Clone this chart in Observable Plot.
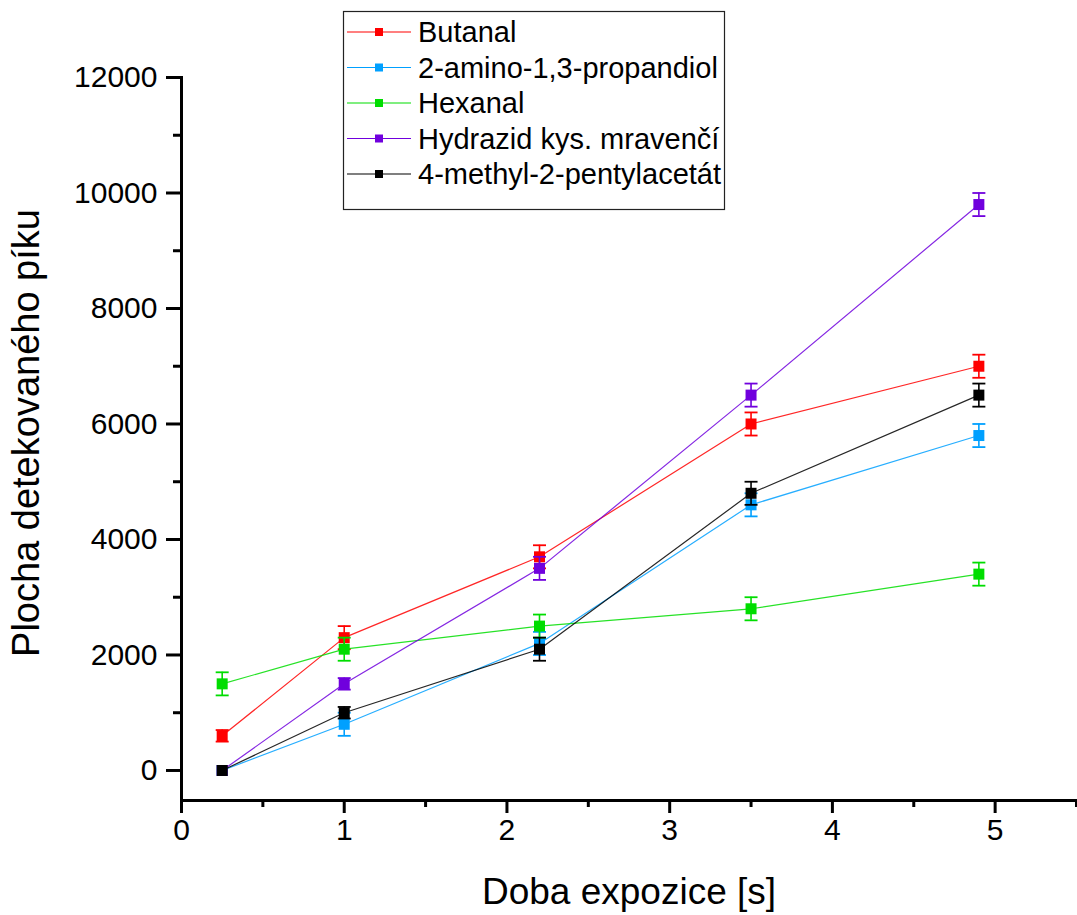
<!DOCTYPE html>
<html>
<head>
<meta charset="utf-8">
<script src="https://cdn.jsdelivr.net/npm/d3@7"></script>
<script src="https://cdn.jsdelivr.net/npm/@observablehq/plot@0.6"></script>
<style>
  body { margin: 0; background: #fff; }
  #chart { position: relative; width: 1077px; height: 915px; font-family: "Liberation Sans", Arial, sans-serif; }
  #chart > svg.legend { position: absolute; left: 0; top: 0; }
</style>
</head>
<body>
<div id="chart"></div>
<script>
// Exposure times (s)
const times = [0.25, 1, 2.2, 3.5, 4.9];

// Series names and colours
const seriesNames = ["Butanal", "2-amino-1,3-propandiol", "Hexanal", "Hydrazid kys. mravenčí", "4-methyl-2-pentylacetát"];
const seriesColors = ["#ff0000", "#00a0ff", "#00dd00", "#7000dd", "#000000"];

// Detected peak areas and their errors
const butanal = [600, 2300, 3700, 6000, 7000];
const butanalErr = [100, 200, 200, 200, 200];
const aminopropandiol = [0, 800, 2200, 4600, 5800];
const aminopropandiolErr = [0, 200, 200, 200, 200];
const hexanal = [1500, 2100, 2500, 2800, 3400];
const hexanalErr = [200, 200, 200, 200, 200];
const hydrazid = [0, 1500, 3500, 6500, 9800];
const hydrazidErr = [0, 100, 200, 200, 200];
const methylpentylacetat = [0, 1000, 2100, 4800, 6500];
const methylpentylacetatErr = [0, 100, 200, 200, 200];

// Axis ticks and titles
const xTicks = [0, 1, 2, 3, 4, 5];
const xMinorTicks = [0.5, 1.5, 2.5, 3.5, 4.5, 5.5];
const yTicks = [0, 2000, 4000, 6000, 8000, 10000, 12000];
const yMinorTicks = [1000, 3000, 5000, 7000, 9000, 11000];
const xTitle = "Doba expozice [s]";
const yTitle = "Plocha detekovaného píku";

const seriesValues = [butanal, aminopropandiol, hexanal, hydrazid, methylpentylacetat];
const seriesErrors = [butanalErr, aminopropandiolErr, hexanalErr, hydrazidErr, methylpentylacetatErr];

const rows = seriesNames.flatMap((name, i) =>
  times.map((t, j) => ({
    series: name,
    x: t,
    y: seriesValues[i][j],
    lo: seriesValues[i][j] - seriesErrors[i][j],
    hi: seriesValues[i][j] + seriesErrors[i][j]
  }))
);

// Horizontal cap symbol and square marker symbol
const capSymbol = {
  draw(ctx, size) { const w = Math.sqrt(size / Math.PI); ctx.moveTo(-w, 0); ctx.lineTo(w, 0); }
};
const squareSymbol = {
  draw(ctx, size) { const h = Math.sqrt(size / Math.PI); ctx.rect(-h, -h, 2 * h, 2 * h); }
};

// Each series drawn as one layer: line, error bars, then markers
const seriesMarks = seriesNames.flatMap((name, i) => {
  const data = rows.filter(d => d.series === name);
  const bars = data.filter(d => d.hi > d.lo);
  const color = seriesColors[i];
  return [
    Plot.line(data, {x: "x", y: "y", stroke: color, strokeWidth: 1.2, strokeOpacity: 0.85}),
    Plot.ruleX(bars, {x: "x", y1: "lo", y2: "hi", stroke: color, strokeWidth: 1.6}),
    Plot.dot(bars, {x: "x", y: "lo", symbol: capSymbol, r: 6.5, stroke: color, strokeWidth: 1.8, fill: "none"}),
    Plot.dot(bars, {x: "x", y: "hi", symbol: capSymbol, r: 6.5, stroke: color, strokeWidth: 1.8, fill: "none"}),
    Plot.dot(data, {x: "x", y: "y", symbol: squareSymbol, r: 5.5, fill: color, stroke: "none"})
  ];
});

const plain = d => String(d);

const chart = Plot.plot({
  width: 1077,
  height: 915,
  marginLeft: 181,
  marginRight: 1,
  marginTop: 77,
  marginBottom: 115,
  style: {fontFamily: "'Liberation Sans', Arial, sans-serif", fontSize: "30px", color: "#000", background: "#fff", overflow: "visible"},
  x: {domain: [0, 5.5]},
  y: {domain: [-520, 12000]},
  marks: [
    ...seriesMarks,
    Plot.axisX(xTicks, {tickSize: 13, tickPadding: 5, strokeWidth: 3, fontSize: 30, tickFormat: plain, label: null}),
    Plot.axisX(xMinorTicks, {tickSize: 7, strokeWidth: 3, tickFormat: () => "", label: null}),
    Plot.axisY(yTicks, {tickSize: 15, tickPadding: 9, strokeWidth: 3, fontSize: 30, tickFormat: plain, label: null}),
    Plot.axisY(yMinorTicks, {tickSize: 8, strokeWidth: 3, tickFormat: () => "", label: null}),
    Plot.frame({anchor: "left", strokeWidth: 3}),
    Plot.frame({anchor: "bottom", strokeWidth: 3}),
    Plot.text([xTitle], {frameAnchor: "bottom", dy: 103, lineAnchor: "bottom", fontSize: 37, text: d => d}),
    Plot.text([yTitle], {frameAnchor: "left", dx: -169, dy: -6, rotate: -90, textAnchor: "middle", lineAnchor: "top", fontSize: 38, text: d => d})
  ]
});

const root = document.getElementById("chart");
root.appendChild(chart);

// Legend box overlaid on the upper part of the plot
const legend = d3.create("svg")
  .attr("class", "legend")
  .attr("width", 1077)
  .attr("height", 230)
  .style("font-family", "'Liberation Sans', Arial, sans-serif");

legend.append("rect")
  .attr("x", 343.5).attr("y", 11.5)
  .attr("width", 381).attr("height", 198)
  .attr("fill", "#fff").attr("stroke", "#222").attr("stroke-width", 1.2);

const item = legend.selectAll("g.item")
  .data(seriesNames)
  .join("g")
  .attr("class", "item")
  .attr("transform", (d, i) => `translate(0,${32 + i * 35.5})`);

item.append("line")
  .attr("x1", 347).attr("x2", 411)
  .attr("stroke", (d, i) => seriesColors[i]).attr("stroke-width", 1.2);
item.append("rect")
  .attr("x", 375).attr("y", -4).attr("width", 8).attr("height", 8)
  .attr("fill", (d, i) => seriesColors[i]);
item.append("text")
  .attr("x", 418).attr("dy", "0.35em")
  .attr("font-size", 29)
  .attr("fill", "#000")
  .text(d => d);

root.appendChild(legend.node());
</script>
</body>
</html>
